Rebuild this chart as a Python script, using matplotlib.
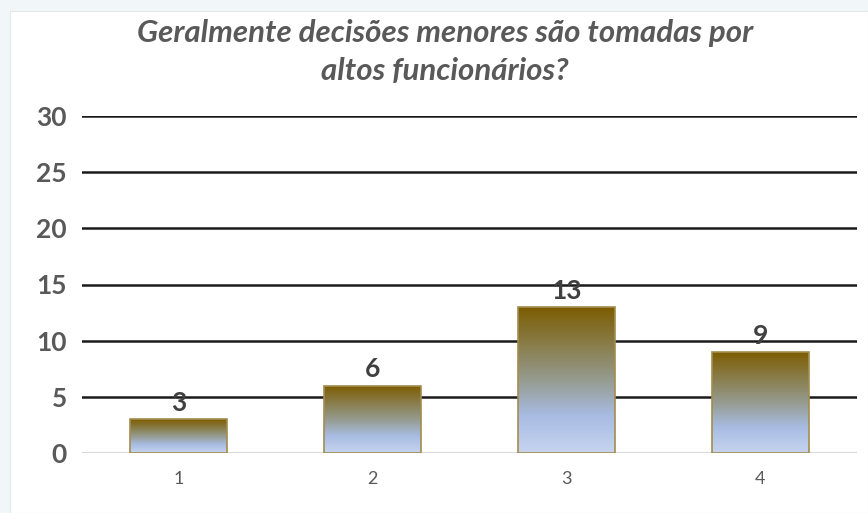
import numpy as np
import matplotlib
matplotlib.use("Agg")
import matplotlib.pyplot as plt
from matplotlib.colors import LinearSegmentedColormap
from matplotlib.patches import Rectangle

categories = ["1", "2", "3", "4"]
values = [3, 6, 13, 9]
yticks = [0, 5, 10, 15, 20, 25, 30]
title = "Geralmente decisões menores são tomadas por\naltos funcionários?"

plt.rcParams['font.family'] = ['Lato', 'DejaVu Sans']

W, H = 868, 513
fig = plt.figure(figsize=(W/100, H/100), dpi=100, facecolor='#f1f6f8')
bg = fig.add_axes([0, 0, 1, 1], zorder=-5)
bg.set_axis_off()
bg.set_xlim(0, 1); bg.set_ylim(0, 1)
bg.add_patch(Rectangle((10/W, 0), 1 - 10/W, 1 - 11/H, facecolor='white',
                       edgecolor='#e4e8ea', lw=0.8))

ax = fig.add_axes([82/W, (H-453)/H, (857-82)/W, (453-116)/H], zorder=2)
ax.set_facecolor('none')
x = np.arange(len(categories))
ax.set_xlim(-0.5, len(categories) - 0.5)
ax.set_ylim(0, 30)

cmap = LinearSegmentedColormap.from_list('g', [
    (0.0, '#c6d4ee'), (0.25, '#a8bce3'), (0.5, '#959b8e'), (1.0, '#7c5c00')])
grad = np.linspace(0, 1, 256).reshape(-1, 1)

bars = ax.bar(x, values, width=0.5, facecolor='none', edgecolor='#a48c4e', lw=1.2, zorder=3)
for b in bars:
    x0, y0 = b.get_x(), b.get_y()
    w, h = b.get_width(), b.get_height()
    im = ax.imshow(grad, cmap=cmap, aspect='auto', origin='lower',
                   extent=[x0, x0 + w, y0, y0 + h], zorder=2)
    im.set_clip_path(b)

for xi, v in zip(x, values):
    ax.annotate(str(v), (xi, v), xytext=(0, 3), textcoords='offset points',
                ha='center', va='bottom', fontsize=19, fontweight='bold', color='#404040', zorder=4)

ax.set_yticks(yticks)
ax.set_yticklabels([str(t) for t in yticks], fontsize=19, fontweight='bold', color='#595959')
ax.set_xticks(x)
ax.set_xticklabels(categories, fontsize=13, color='#595959')
ax.tick_params(axis='both', length=0)
ax.tick_params(axis='y', pad=11)
ax.tick_params(axis='x', pad=13)
for s in ax.spines.values():
    s.set_visible(False)
for t in yticks[1:]:
    ax.axhline(t, color='#1a1a1a', lw=1.8, zorder=1)
ax.axhline(0, color='#d9d9d9', lw=1.5, zorder=1)

fig.text(0.5*(1+10/W) + 6/W, 1 - 52/H, title, ha='center', va='center', fontsize=22.5,
         fontstyle='italic', fontweight='bold', color='#595959', linespacing=1.45)

fig.savefig('out.png', dpi=100, facecolor=fig.get_facecolor())
